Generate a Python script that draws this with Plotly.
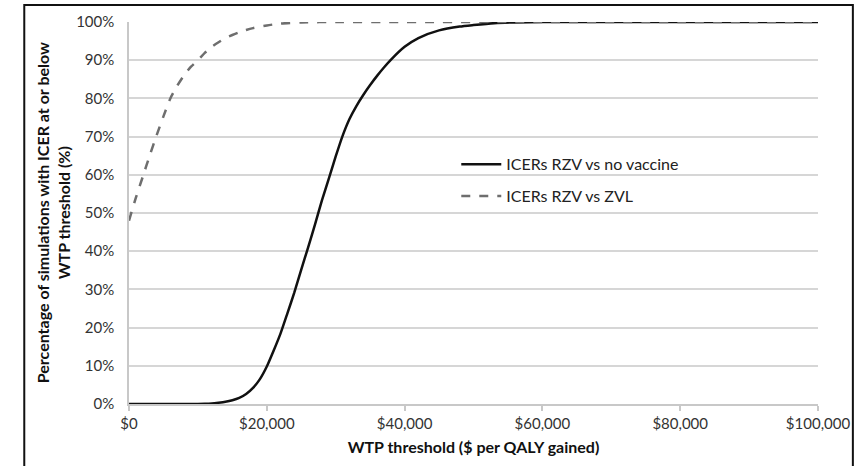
import plotly.graph_objects as go

# WTP thresholds ($ per QALY gained) and cumulative % of simulations
wtp_novax = [0, 5000, 10000, 11000, 12000, 13000, 14000, 15000, 16000, 17000, 18000, 19000,
             20000, 21000, 22000, 23000, 24000, 25000, 26000, 27000, 28000, 29000, 30000,
             31000, 32000, 33000, 34000, 35000, 36000, 37000, 38000, 40000, 42000, 45000,
             48000, 50000, 53000, 56000, 60000, 70000, 80000, 90000, 100000]
pct_novax = [0, 0, 0, 0.05, 0.15, 0.35, 0.6, 1.0, 1.6, 2.6, 4.2, 6.5,
             9.8, 14.0, 18.5, 23.8, 29.2, 35.2, 41.0, 47.0, 53.3, 59.0, 64.8,
             70.2, 74.6, 78.0, 80.9, 83.5, 85.9, 88.1, 90.1, 93.5, 95.8, 97.8,
             98.8, 99.2, 99.7, 99.9, 100, 100, 100, 100, 100]

wtp_zvl = [0, 1000, 2000, 3000, 4000, 5000, 6000, 7000, 8000, 9000, 10000, 11000, 12000,
           13000, 14000, 15000, 16000, 17000, 18000, 20000, 22000, 25000, 30000, 40000,
           60000, 80000, 100000]
pct_zvl = [48.0, 54.0, 59.5, 65.0, 70.3, 75.3, 80.0, 83.3, 86.1, 88.3, 90.0, 91.9, 93.5,
           94.7, 95.8, 96.6, 97.3, 97.9, 98.4, 99.1, 99.6, 99.9, 100, 100,
           100, 100, 100]

x_ticks = [0, 20000, 40000, 60000, 80000, 100000]
x_ticklabels = ["$0", "$20,000", "$40,000", "$60,000", "$80,000", "$100,000"]
y_ticks = [0, 10, 20, 30, 40, 50, 60, 70, 80, 90, 100]
y_ticklabels = [f"{v}%" for v in y_ticks]

FONT = "Lato, 'Open Sans', sans-serif"

fig = go.Figure()
fig.add_trace(go.Scatter(x=wtp_novax, y=pct_novax, mode="lines", name="ICERs RZV vs no vaccine",
                         line=dict(color="#111111", width=2.5, shape="spline", smoothing=0.6),
                         legendgroup="a"))
fig.add_trace(go.Scatter(x=wtp_zvl, y=pct_zvl, mode="lines", name="ICERs RZV vs ZVL",
                         line=dict(color="#6e6e6e", width=2.5, dash="dash", shape="spline", smoothing=0.6),
                         legendgroup="b"))

fig.update_layout(
    width=862, height=466,
    margin=dict(l=129, r=42, t=22, b=62),
    paper_bgcolor="white", plot_bgcolor="white",
    font=dict(family=FONT, size=15, color="#333333"),
    showlegend=True,
    legend=dict(x=0.475, y=0.672, xanchor="left", yanchor="top", bgcolor="rgba(0,0,0,0)",
                font=dict(family=FONT, size=16, color="#222222"),
                traceorder="grouped", tracegroupgap=8, itemwidth=40),
    xaxis=dict(range=[0, 100000], tickvals=x_ticks, ticktext=x_ticklabels,
               showgrid=False, zeroline=False, showline=True, linecolor="#c8c8c8", linewidth=1.5,
               ticks="outside", ticklen=5, tickcolor="#c8c8c8", tickwidth=1.5,
               tickfont=dict(family=FONT, size=15, color="#333333"),
               title=dict(text="<b>WTP threshold ($ per QALY gained)</b>",
                          font=dict(family=FONT, size=16, color="#111111"), standoff=11)),
    yaxis=dict(range=[0, 100], tickvals=y_ticks, ticktext=y_ticklabels,
               showgrid=True, gridcolor="#d6d6d6", gridwidth=1.5, zeroline=False,
               showline=True, linecolor="#c8c8c8", linewidth=1.5, ticks="",
               ticklabelstandoff=10,
               tickfont=dict(family=FONT, size=15, color="#333333")),
    annotations=[dict(text="<b>Percentage of simulations with ICER at or below<br>WTP threshold (%)</b>",
                      x=-0.11, y=0.5, xref="paper", yref="paper", textangle=-90,
                      xanchor="center", yanchor="middle", showarrow=False,
                      font=dict(family=FONT, size=16, color="#111111"))],
    shapes=[dict(type="rect", xref="paper", yref="paper", x0=-0.152, x1=1.0506, y0=-0.2, y1=1.0445,
                 line=dict(color="#111111", width=2), layer="below")],
)

fig.write_html("out.html", config={"displayModeBar": False},
               post_script="document.body.style.margin='0px';")
